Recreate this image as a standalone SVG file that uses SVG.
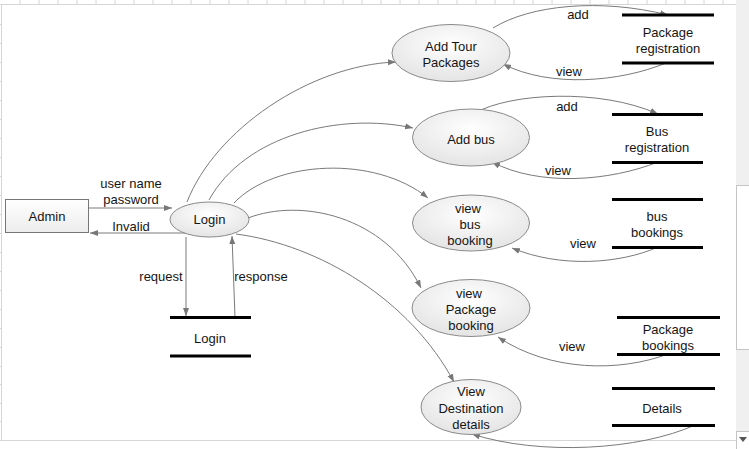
<svg xmlns="http://www.w3.org/2000/svg" width="749" height="449" viewBox="0 0 749 449">
<defs>
<radialGradient id="gf" cx="0.5" cy="0.35" r="0.6">
<stop offset="0" stop-color="#ffffff"/>
<stop offset="1" stop-color="#e6e6e6"/>
</radialGradient>
<linearGradient id="gr" x1="0" y1="0" x2="0" y2="1">
<stop offset="0" stop-color="#ffffff"/>
<stop offset="1" stop-color="#ececec"/>
</linearGradient>
<marker id="ah" markerWidth="9" markerHeight="7" refX="8" refY="3" orient="auto" markerUnits="userSpaceOnUse">
<path d="M0,0 L8,3 L0,6 z" fill="#777"/>
</marker>
</defs>
<style>
text{font-family:"Liberation Sans",Arial,sans-serif;font-size:13px;fill:#151515;text-anchor:middle}
.grid{stroke:#d6d6d6;stroke-width:1;fill:none}
.proc{fill:url(#gf);stroke:#8a8a8a;stroke-width:1}
.ent{fill:url(#gr);stroke:#777;stroke-width:1}
.store{stroke:#000;stroke-width:3}
.flow{fill:none;stroke:#7a7a7a;stroke-width:1;marker-end:url(#ah)}
</style>
<rect width="749" height="449" fill="#fff"/>
<g id="sheet">
<path class="grid" d="M0,4.5 H736 M1.5,4.5 V440 M0,440.5 H736"/>
<path class="grid" d="M20,0V4 M39,0V4 M58,0V4 M77,0V4 M96,0V4 M115,0V4 M134,0V4 M153,0V4 M172,0V4 M191,0V4 M210,0V4 M229,0V4 M248,0V4 M267,0V4 M286,0V4 M305,0V4 M324,0V4 M343,0V4 M362,0V4 M381,0V4 M400,0V4 M419,0V4 M438,0V4 M457,0V4 M476,0V4 M495,0V4 M514,0V4 M533,0V4 M552,0V4 M571,0V4 M590,0V4 M609,0V4 M628,0V4 M647,0V4 M666,0V4 M685,0V4 M704,0V4 M723,0V4"/>
<path class="grid" d="M0,24.5H1.5 M0,43.5H1.5 M0,62.5H1.5 M0,81.5H1.5 M0,100.5H1.5 M0,119.5H1.5 M0,138.5H1.5 M0,157.5H1.5 M0,176.5H1.5 M0,195.5H1.5 M0,214.5H1.5 M0,233.5H1.5 M0,252.5H1.5 M0,271.5H1.5 M0,290.5H1.5 M0,309.5H1.5 M0,328.5H1.5 M0,347.5H1.5 M0,366.5H1.5 M0,384.5H1.5 M0,403.5H1.5 M0,421.5H1.5"/>
<rect x="736" y="0" width="13" height="185" fill="#f0f0f0"/>
<rect x="736.5" y="185.5" width="13" height="164" fill="#fff" stroke="#c4c4c4"/>
<rect x="736" y="350" width="13" height="99" fill="#f0f0f0"/>
<rect x="736.5" y="431.5" width="13" height="18" fill="#fff" stroke="#c4c4c4"/>
<path d="M739,437 H747 L743,442 z" fill="#555"/>
</g>
<g id="connectors">
<path class="flow" d="M89,208 L172,208"/>
<path class="flow" d="M187,233 L90,233"/>
<path class="flow" d="M186,237 L186,316"/>
<path class="flow" d="M235,317 L232,236"/>
<path class="flow" d="M187,202 C215,130 310,65 396,62"/>
<path class="flow" d="M209,200 C245,135 340,112 413,128"/>
<path class="flow" d="M234,203 C275,160 375,155 428,198"/>
<path class="flow" d="M248,218 C300,198 385,215 421,288"/>
<path class="flow" d="M236,234 C320,245 410,300 454,382"/>
<path class="flow" d="M493,28 C530,5 600,-2 668,15"/>
<path class="flow" d="M666,63 C620,82 550,88 503,64"/>
<path class="flow" d="M475,113 C510,93 600,88 658,114"/>
<path class="flow" d="M658,162 C610,181 540,187 492,162"/>
<path class="flow" d="M658,247 C620,264 560,268 512,248"/>
<path class="flow" d="M668,354 C620,372 550,372 498,337"/>
<path class="flow" d="M695,425 C640,450 540,456 472,434"/>
<text x="131" y="188">user name</text>
<text x="131" y="204">password</text>
<text x="131" y="231">Invalid</text>
<text x="161" y="281">request</text>
<text x="261" y="281">response</text>
<text x="578" y="19">add</text>
<text x="569" y="76">view</text>
<text x="567" y="111">add</text>
<text x="558" y="175">view</text>
<text x="583" y="248">view</text>
<text x="572" y="351">view</text>
</g>
<g id="admin">
<rect class="ent" x="5.5" y="199.5" width="83" height="33"/>
<text x="47" y="221">Admin</text>
</g>
<g id="login">
<ellipse class="proc" cx="209.5" cy="219.5" rx="39.5" ry="17.5"/>
<text x="209.5" y="224">Login</text>
</g>
<g id="login-store">
<path class="store" d="M170,317.5 H251 M170,356 H251"/>
<text x="210" y="343">Login</text>
</g>
<g id="add-tour-packages">
<ellipse class="proc" cx="451" cy="53" rx="59" ry="28.5"/>
<text x="451" y="51">Add Tour</text>
<text x="451" y="67">Packages</text>
</g>
<g id="package-registration">
<path class="store" d="M622,15 H714 M622,63 H714"/>
<text x="668" y="37">Package</text>
<text x="668" y="53">registration</text>
</g>
<g id="add-bus">
<ellipse class="proc" cx="471" cy="137.5" rx="58.5" ry="28.5"/>
<text x="471" y="144">Add bus</text>
</g>
<g id="bus-registration">
<path class="store" d="M612,114.5 H703 M612,162.5 H703"/>
<text x="657" y="136">Bus</text>
<text x="657" y="152">registration</text>
</g>
<g id="view-bus-booking">
<ellipse class="proc" cx="471" cy="223" rx="58.5" ry="28"/>
<text x="468" y="213">view</text>
<text x="470" y="229">bus</text>
<text x="470" y="245">booking</text>
</g>
<g id="bus-bookings">
<path class="store" d="M612,199.5 H703 M612,247.5 H703"/>
<text x="657" y="221">bus</text>
<text x="657" y="237">bookings</text>
</g>
<g id="view-package-booking">
<ellipse class="proc" cx="471" cy="308" rx="59" ry="28.5"/>
<text x="469" y="298">view</text>
<text x="471" y="314">Package</text>
<text x="471" y="330">booking</text>
</g>
<g id="package-bookings">
<path class="store" d="M617,317.5 H720 M617,354.5 H720"/>
<text x="668" y="334">Package</text>
<text x="668" y="350">bookings</text>
</g>
<g id="view-destination-details">
<ellipse class="proc" cx="471" cy="407" rx="50" ry="27.5"/>
<text x="471" y="396">View</text>
<text x="471" y="413">Destination</text>
<text x="471" y="429">details</text>
</g>
<g id="details">
<path class="store" d="M612,388.5 H715 M612,425.5 H715"/>
<text x="662" y="413">Details</text>
</g>
</svg>
